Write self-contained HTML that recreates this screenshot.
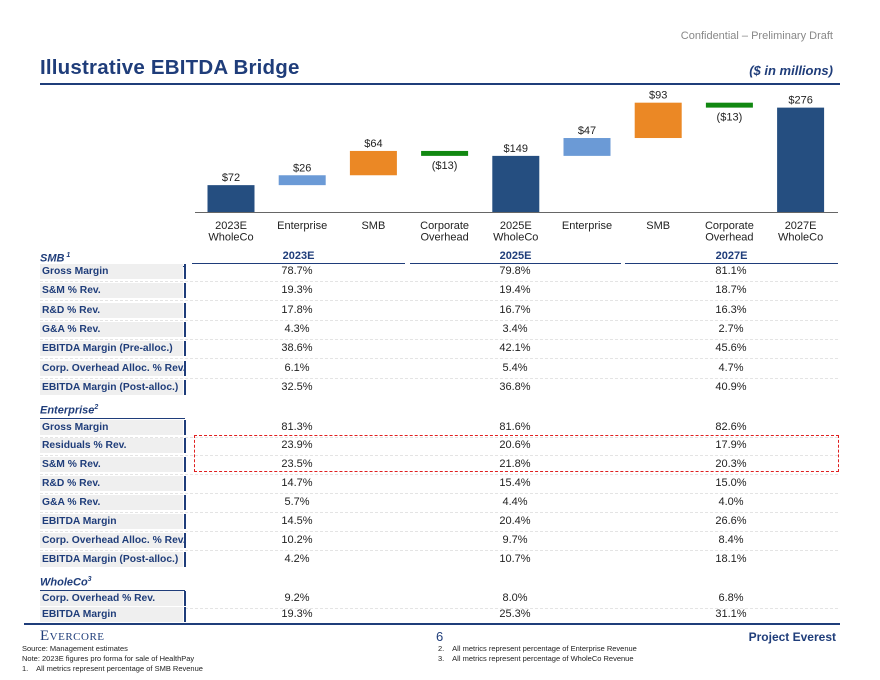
<!DOCTYPE html>
<html><head><meta charset="utf-8"><style>
body{margin:0;width:880px;height:680px;background:#fff;position:relative;font-family:"Liberation Sans",Arial,sans-serif;overflow:hidden}
.a{position:absolute}
.lbl{position:absolute;left:40px;width:143px;height:15px;background:#efefef;color:#1f3d7a;font-weight:bold;font-size:10.3px;line-height:15px;padding-left:2px;box-sizing:border-box;white-space:nowrap;overflow:visible}
.tick{position:absolute;left:184px;width:2px;height:15px;background:#1f3d7a}
.v{position:absolute;width:120px;text-align:center;font-size:11px;color:#222;line-height:15px}
.sec{position:absolute;left:40px;width:145px;color:#1f3d7a;font-style:italic;font-weight:bold;font-size:11px;border-bottom:1.5px solid #1f3d7a;line-height:14px}
.sep{position:absolute;left:40px;width:798px;border-top:1px dashed #e4e4e4}
.hd{position:absolute;text-align:center;color:#1f3d7a;font-weight:bold;font-size:11px;border-bottom:1.5px solid #1f3d7a;line-height:14px}
.fn{position:absolute;font-size:7.5px;color:#222}
</style></head><body>
<div class="a" style="right:47px;top:30px;font-size:11px;color:#888">Confidential – Preliminary Draft</div>
<div class="a" style="left:40px;top:56px;font-size:20.5px;font-weight:bold;color:#1f3d7a;letter-spacing:0.2px">Illustrative EBITDA Bridge</div>
<div class="a" style="right:47px;top:63px;font-size:13px;font-weight:bold;font-style:italic;color:#1f3d7a">($ in millions)</div>
<div class="a" style="left:40px;top:83px;width:800px;height:2px;background:#1f3d7a"></div>

<svg class="a" style="left:0;top:0" width="880" height="250" id="chart"></svg>

<div id="table"></div>

<div class="a" style="left:194px;top:435px;width:643px;height:35px;border:1.3px dashed #e02020"></div>

<div class="a" style="left:24px;top:623px;width:816px;height:2px;background:#1f3d7a"></div>
<div class="a" style="left:40px;top:628px;font-family:'Liberation Serif',serif;font-size:15px;color:#1f3d7a;letter-spacing:0.5px">E<span style="font-size:11px">VERCORE</span></div>
<div class="a" style="left:436px;top:629px;font-size:13px;color:#1f3d7a">6</div>
<div class="a" style="right:44px;top:630px;font-size:12px;font-weight:bold;color:#1f3d7a">Project Everest</div>
<div class="fn" style="left:22px;top:644px">Source: Management estimates</div>
<div class="fn" style="left:22px;top:654px">Note: 2023E figures pro forma for sale of HealthPay</div>
<div class="fn" style="left:22px;top:664px">1.&nbsp;&nbsp;&nbsp; All metrics represent percentage of SMB Revenue</div>
<div class="fn" style="left:438px;top:644px">2.&nbsp;&nbsp;&nbsp; All metrics represent percentage of Enterprise Revenue</div>
<div class="fn" style="left:438px;top:654px">3.&nbsp;&nbsp;&nbsp; All metrics represent percentage of WholeCo Revenue</div>

<script>
const categories=["2023E|WholeCo","Enterprise","SMB","Corporate|Overhead","2025E|WholeCo","Enterprise","SMB","Corporate|Overhead","2027E|WholeCo"];
const values=[72,26,64,-13,149,47,93,-13,276];
const kinds=["total","ent","smb","corp","total","ent","smb","corp","total"];
const valueLabels=["$72","$26","$64","($13)","$149","$47","$93","($13)","$276"];
const colors={total:"#254e80",ent:"#6b9ad6",smb:"#eb8825",corp:"#118811"};
const NS="http://www.w3.org/2000/svg";
const svg=document.getElementById('chart');
const baseY=212.5, scale=0.38, x0=231, step=71.2, bw=47;
const yS=v=>baseY-v*scale, xS=i=>x0+i*step;
function mk(t,a){const e=document.createElementNS(NS,t);for(const k in a)e.setAttribute(k,a[k]);svg.appendChild(e);return e;}
let run=0;
values.forEach((v,i)=>{
  let lo,hi;
  if(kinds[i]==="total"){run=v;lo=0;hi=v;}else{lo=Math.min(run,run+v);hi=Math.max(run,run+v);run+=v;}
  const r=mk('rect',{x:xS(i)-bw/2,y:yS(hi),width:bw,height:Math.max(yS(lo)-yS(hi),1),fill:colors[kinds[i]]});
  
  
  const ly=v<0?yS(lo)+13:yS(hi)-4;
  const t=mk('text',{x:xS(i),y:ly,'text-anchor':'middle','font-size':11,fill:'#222','font-family':'Liberation Sans, Arial, sans-serif'});
  t.textContent=valueLabels[i];
  
  
  categories[i].split('|').forEach((s,j)=>{
    const c=mk('text',{x:xS(i),y:229+j*11.5,'text-anchor':'middle','font-size':11,fill:'#222','font-family':'Liberation Sans, Arial, sans-serif'});
    c.textContent=s;
    
    
  });
});
const ax=mk('line',{x1:195,x2:838,y1:baseY,y2:baseY,stroke:'#666','stroke-width':1});



const rows=[
 ["sec","SMB<sup style='font-size:7px'> 1</sup>",256],
 ["row","Gross Margin",271,"78.7%","79.8%","81.1%"],
 ["row","S&amp;M % Rev.",290,"19.3%","19.4%","18.7%"],
 ["row","R&amp;D % Rev.",310,"17.8%","16.7%","16.3%"],
 ["row","G&amp;A % Rev.",329,"4.3%","3.4%","2.7%"],
 ["row","EBITDA Margin (Pre-alloc.)",348,"38.6%","42.1%","45.6%"],
 ["row","Corp. Overhead Alloc. % Rev.",368,"6.1%","5.4%","4.7%"],
 ["row","EBITDA Margin (Post-alloc.)",387,"32.5%","36.8%","40.9%"],
 ["sec","Enterprise<sup style='font-size:7px'>2</sup>",408],
 ["row","Gross Margin",427,"81.3%","81.6%","82.6%"],
 ["row","Residuals % Rev.",445,"23.9%","20.6%","17.9%"],
 ["row","S&amp;M % Rev.",464,"23.5%","21.8%","20.3%"],
 ["row","R&amp;D % Rev.",483,"14.7%","15.4%","15.0%"],
 ["row","G&amp;A % Rev.",502,"5.7%","4.4%","4.0%"],
 ["row","EBITDA Margin",521,"14.5%","20.4%","26.6%"],
 ["row","Corp. Overhead Alloc. % Rev.",540,"10.2%","9.7%","8.4%"],
 ["row","EBITDA Margin (Post-alloc.)",559,"4.2%","10.7%","18.1%"],
 ["sec","WholeCo<sup style='font-size:7px'>3</sup>",580],
 ["row","Corp. Overhead % Rev.",598,"9.2%","8.0%","6.8%"],
 ["row","EBITDA Margin",614,"19.3%","25.3%","31.1%"]
];
let h="";
[["2023E",192,213],["2025E",410,211],["2027E",625,213]].forEach((c,i)=>{
 h+=`<div class="hd" style="left:${c[1]}px;width:${c[2]}px;top:249px">${c[0]}</div>`;
});
const cx=[297,515,731];
rows.forEach((r,i)=>{
 const y=r[2]-7;
 if(r[0]==="sec"){h+=`<div class="sec" style="top:${y}px">${r[1]}</div>`;}
 else{
  h+=`<div class="lbl" style="top:${y}px">${r[1]}</div><div class="tick" style="top:${y}px"></div>`;
  for(let k=0;k<3;k++)h+=`<div class="v" style="left:${cx[k]-60}px;top:${y}px">${r[3+k]}</div>`;
  if(rows[i+1]&&rows[i+1][0]==="row")h+=`<div class="sep" style="top:${y+17}px"></div>`;
 }
});
document.getElementById('table').innerHTML=h;
</script>
</body></html>
